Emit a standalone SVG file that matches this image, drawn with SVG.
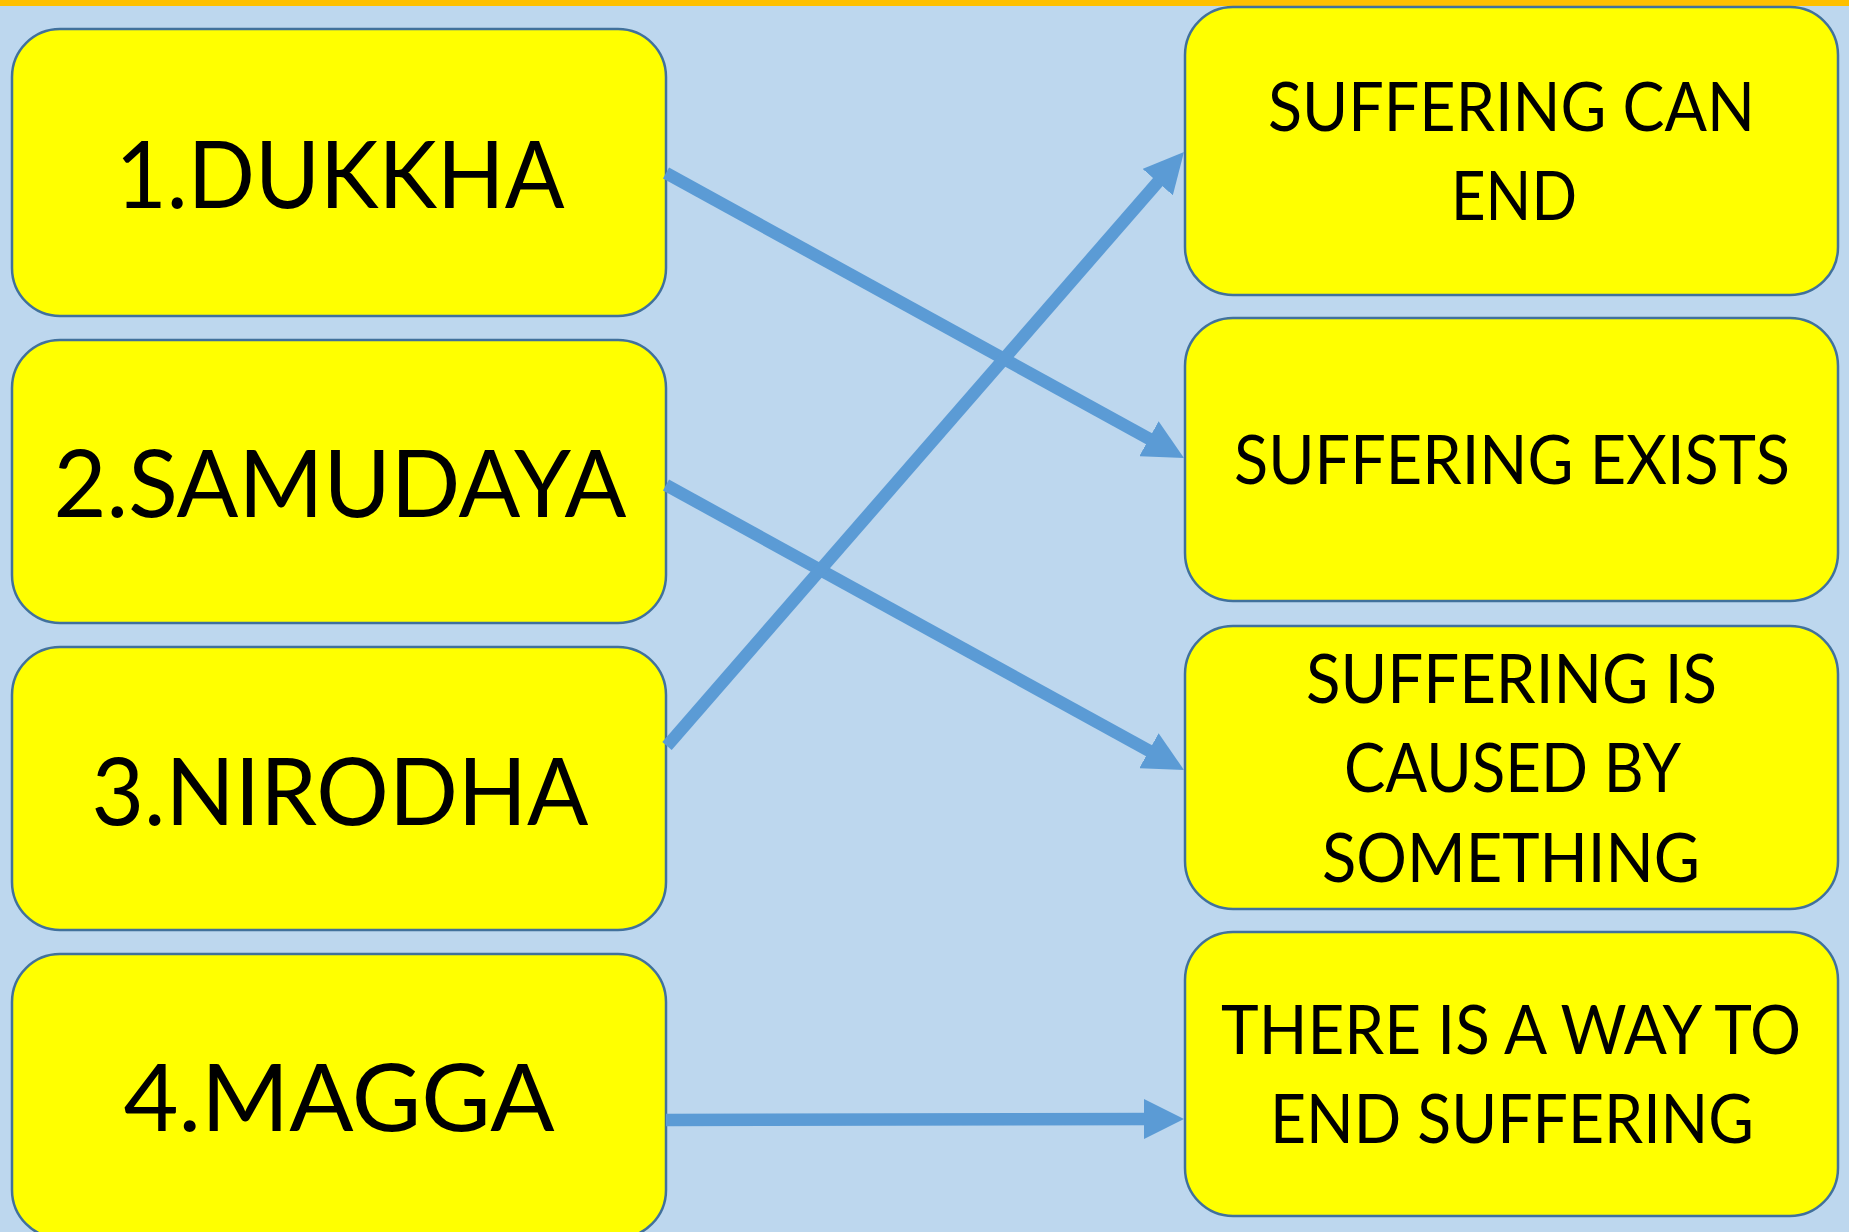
<svg xmlns="http://www.w3.org/2000/svg" width="1849" height="1232" viewBox="0 0 1849 1232">
  <defs>
    <style>
      .box { fill: #FFFF00; stroke: #41719C; stroke-width: 2.5; }
      .big { font-family: Lato, "Liberation Sans", sans-serif; font-size: 93.5px; fill: #000; text-anchor: middle; }
      .small { font-family: Lato, "Liberation Sans", sans-serif; font-size: 67px; fill: #000; text-anchor: middle; }
      .conn { stroke: #5B9BD5; stroke-width: 12.5; fill: none; marker-end: url(#head); }
    </style>
    <marker id="head" markerUnits="userSpaceOnUse" markerWidth="40" markerHeight="40" refX="10" refY="20" orient="auto" viewBox="0 0 40 40">
      <path d="M0,0 L40,20 L0,40 Z" fill="#5B9BD5"/>
    </marker>
  </defs>
  <rect x="0" y="0" width="1849" height="1232" fill="#BDD7EE"/>
  <rect x="0" y="0" width="1849" height="6" fill="#FFC000"/>

  <g id="node-dukkha">
    <rect class="box" x="12" y="29" width="654" height="287" rx="48" ry="48"/>
    <text class="big" x="340" y="208" textLength="449" lengthAdjust="spacingAndGlyphs">1.DUKKHA</text>
  </g>
  <g id="node-samudaya">
    <rect class="box" x="12" y="340" width="654" height="283" rx="48" ry="48"/>
    <text class="big" x="340" y="517" textLength="573" lengthAdjust="spacingAndGlyphs">2.SAMUDAYA</text>
  </g>
  <g id="node-nirodha">
    <rect class="box" x="12" y="647" width="654" height="283" rx="48" ry="48"/>
    <text class="big" x="340" y="825" textLength="497" lengthAdjust="spacingAndGlyphs">3.NIRODHA</text>
  </g>
  <g id="node-magga">
    <rect class="box" x="12" y="954" width="654" height="284" rx="48" ry="48"/>
    <text class="big" x="339" y="1131" textLength="431" lengthAdjust="spacingAndGlyphs">4.MAGGA</text>
  </g>

  <g id="node-can-end">
    <rect class="box" x="1185" y="7" width="653" height="288" rx="48" ry="48"/>
    <text class="small" x="1511.5" y="131" textLength="487" lengthAdjust="spacingAndGlyphs">SUFFERING CAN</text>
    <text class="small" x="1514" y="220" textLength="126" lengthAdjust="spacingAndGlyphs">END</text>
  </g>
  <g id="node-exists">
    <rect class="box" x="1185" y="318" width="653" height="283" rx="48" ry="48"/>
    <text class="small" x="1512" y="484" textLength="556" lengthAdjust="spacingAndGlyphs">SUFFERING EXISTS</text>
  </g>
  <g id="node-caused">
    <rect class="box" x="1185" y="626" width="653" height="283" rx="48" ry="48"/>
    <text class="small" x="1511.5" y="703" textLength="411" lengthAdjust="spacingAndGlyphs">SUFFERING IS</text>
    <text class="small" x="1512.5" y="792" textLength="337" lengthAdjust="spacingAndGlyphs">CAUSED BY</text>
    <text class="small" x="1511" y="882" textLength="378" lengthAdjust="spacingAndGlyphs">SOMETHING</text>
  </g>
  <g id="node-way">
    <rect class="box" x="1185" y="932" width="653" height="284" rx="48" ry="48"/>
    <text class="small" x="1511" y="1054" textLength="580" lengthAdjust="spacingAndGlyphs">THERE IS A WAY TO</text>
    <text class="small" x="1512" y="1143" textLength="484" lengthAdjust="spacingAndGlyphs">END SUFFERING</text>
  </g>

  <g id="connectors">
    <line class="conn" x1="666" y1="173" x2="1157.7" y2="443.5"/>
    <line class="conn" x1="666" y1="485" x2="1157.7" y2="755.5"/>
    <line class="conn" x1="667" y1="746" x2="1164.3" y2="174.6"/>
    <line class="conn" x1="666" y1="1120" x2="1154" y2="1119"/>
  </g>
</svg>
